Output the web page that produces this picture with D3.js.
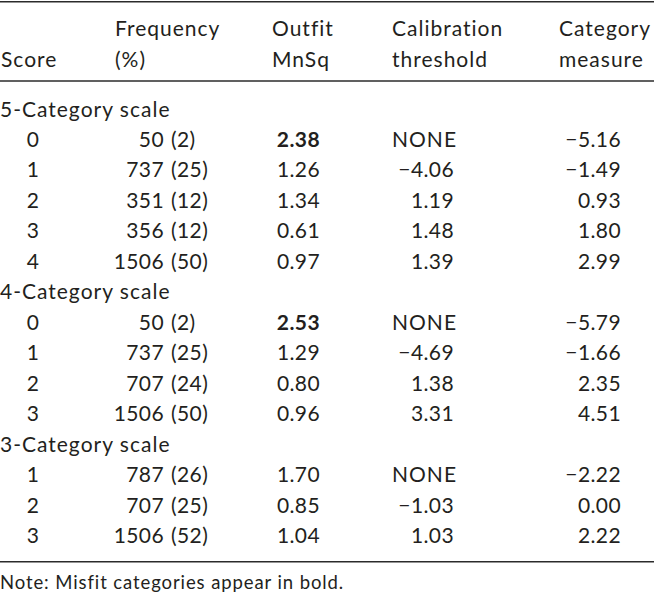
<!DOCTYPE html>
<html>
<head>
<meta charset="utf-8">
<script src="https://cdn.jsdelivr.net/npm/d3@7"></script>
<style>
  html, body { margin: 0; padding: 0; background: #fff; }
  svg { display: block; }
</style>
</head>
<body>
<div id="chart"></div>
<script>
// ---- data ----
const sections = ["5-Category scale", "4-Category scale", "3-Category scale"];
const scores5 = [0, 1, 2, 3, 4];
const freq5 = [50, 737, 351, 356, 1506];
const pct5 = [2, 25, 12, 12, 50];
const outfit5 = [2.38, 1.26, 1.34, 0.61, 0.97];
const threshold5 = [null, -4.06, 1.19, 1.48, 1.39];
const measure5 = [-5.16, -1.49, 0.93, 1.80, 2.99];

const scores4 = [0, 1, 2, 3];
const freq4 = [50, 737, 707, 1506];
const pct4 = [2, 25, 24, 50];
const outfit4 = [2.53, 1.29, 0.80, 0.96];
const threshold4 = [null, -4.69, 1.38, 3.31];
const measure4 = [-5.79, -1.66, 2.35, 4.51];

const scores3 = [1, 2, 3];
const freq3 = [787, 707, 1506];
const pct3 = [26, 25, 52];
const outfit3 = [1.70, 0.85, 1.04];
const threshold3 = [null, -1.03, 1.03];
const measure3 = [-2.22, 0.00, 2.22];

const misfitCutoff = 2.0;
const headerLine1 = ["", "Frequency", "Outfit", "Calibration", "Category"];
const headerLine2 = ["Score", "(%)", "MnSq", "threshold", "measure"];
const noneLabel = "NONE";
const note = "Note: Misfit categories appear in bold.";

// ---- build rows ----
const groups = [
  {scores: scores5, freq: freq5, pct: pct5, outfit: outfit5, thr: threshold5, meas: measure5},
  {scores: scores4, freq: freq4, pct: pct4, outfit: outfit4, thr: threshold4, meas: measure4},
  {scores: scores3, freq: freq3, pct: pct3, outfit: outfit3, thr: threshold3, meas: measure3}
];
const rows = [];
groups.forEach((g, gi) => {
  rows.push({type: "section", label: sections[gi]});
  g.scores.forEach((s, i) => rows.push({
    type: "data", score: s, freq: g.freq[i], pct: g.pct[i],
    outfit: g.outfit[i], thr: g.thr[i], meas: g.meas[i]
  }));
});

// ---- layout ----
const W = 654, H = 598;
const fmt = d3.format(".2f");
const ink = "#231f20";
const font = "Lato, 'Open Sans', sans-serif";
const wordSpacing = "1px";
const numSpacing = "0.4px";

const svg = d3.select("#chart").append("svg")
  .attr("width", W).attr("height", H)
  .style("font-family", font).style("fill", ink);

const y = d3.scaleLinear().domain([0, rows.length - 1]).range([116.5, 543]);

// column anchors
const colX = {
  score: 33, freqNum: 164, freqPct: 171, outfit: 320,
  thrNum: 454, thrNone: 392, meas: 621
};
const headX = d3.scaleOrdinal().domain([0,1,2,3,4]).range([1, 115, 272, 392, 559]);

// rules
const rule = (yy) => svg.append("line").attr("x1", 0).attr("x2", W)
  .attr("y1", yy).attr("y2", yy).attr("stroke", "#2b2b2b").attr("stroke-width", 1.6);
rule(1.8); rule(81); rule(561.8);

// header
const hdr = svg.append("g").style("font-size", "21px").style("letter-spacing", wordSpacing);
hdr.selectAll("text.h1").data(headerLine1).join("text")
  .attr("x", (d, i) => headX(i)).attr("y", 36).text(d => d);
hdr.selectAll("text.h2").data(headerLine2).join("text")
  .attr("x", (d, i) => headX(i)).attr("y", 66.5).text(d => d);

// body
const body = svg.append("g").style("font-size", "21px").style("letter-spacing", numSpacing);
const r = body.selectAll("g.row").data(rows).join("g")
  .attr("transform", (d, i) => `translate(0,${y(i)})`);

r.filter(d => d.type === "section").append("text")
  .attr("x", 0).style("letter-spacing", wordSpacing).text(d => d.label);

const dr = r.filter(d => d.type === "data");
dr.append("text").attr("x", colX.score).attr("text-anchor", "middle").text(d => d.score);
dr.append("text").attr("x", colX.freqNum).attr("text-anchor", "end").text(d => d.freq);
dr.append("text").attr("x", colX.freqPct).text(d => `(${d.pct})`);
dr.append("text").attr("x", colX.outfit).attr("text-anchor", "end")
  .style("font-weight", d => d.outfit > misfitCutoff ? "bold" : "normal")
  .text(d => fmt(d.outfit));
dr.append("text")
  .attr("x", d => d.thr === null ? colX.thrNone : colX.thrNum)
  .attr("text-anchor", d => d.thr === null ? "start" : "end")
  .style("letter-spacing", d => d.thr === null ? wordSpacing : null)
  .text(d => d.thr === null ? noneLabel : fmt(d.thr));
dr.append("text").attr("x", colX.meas).attr("text-anchor", "end").text(d => fmt(d.meas));

// note
svg.append("text").attr("x", 0).attr("y", 589)
  .style("font-size", "18.5px").style("letter-spacing", "0.9px").text(note);
</script>
</body>
</html>
